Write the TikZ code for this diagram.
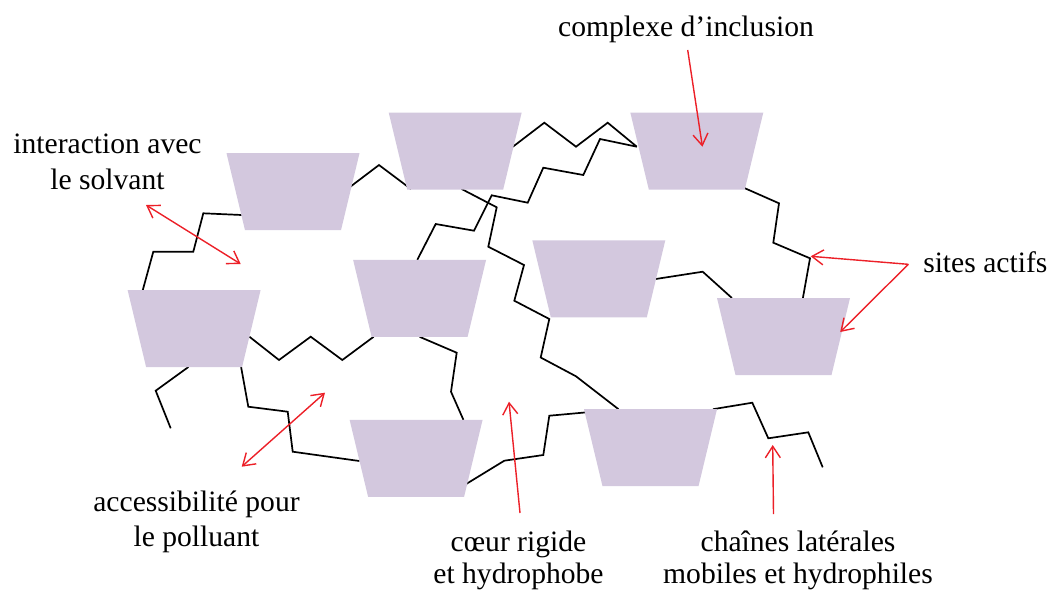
\documentclass[tikz,border=0pt]{standalone}
\usepackage{fontspec}
\setmainfont{Liberation Serif}
\usetikzlibrary{arrows.meta}
\pgfdeclarelayer{bg}
\pgfsetlayers{bg,main}
\definecolor{lav}{RGB}{211,200,222}
\definecolor{arr}{RGB}{236,32,40}
\newcommand\cdunit[3]{%
  \coordinate (#1) at (#2,#3);
  \fill[cdfill] ([shift={(-66.5,-38.5)}]#1) -- ([shift={(66.5,-38.5)}]#1)
     -- ([shift={(48,38.5)}]#1) -- ([shift={(-48,38.5)}]#1) -- cycle;}
\begin{document}
\begin{tikzpicture}[x=1pt,y=-1pt,
  cdfill/.style={fill=lav, draw=none},
  chainline/.style={line width=1.7pt, black},
  redarrow/.style={draw=arr, line width=1.4pt, -{Straight Barb[length=11.5pt,width=15pt]}},
  reddouble/.style={draw=arr, line width=1.4pt, {Straight Barb[length=11.5pt,width=15pt]}-{Straight Barb[length=11.5pt,width=15pt]}},
  lbltop/.style={font=\fontsize{29.6}{35.5}\selectfont, inner sep=0pt, align=center, anchor=base},
  lblbot/.style={font=\fontsize{29.6}{31.5}\selectfont, inner sep=0pt, align=center, anchor=base}
]
\useasboundingbox (0,0) rectangle (1049,590);

% cyclodextrin units
\cdunit{t1}{293}{191.7}
\cdunit{t2}{455.2}{151}
\cdunit{t3}{194.1}{328.5}
\cdunit{t4}{419.6}{298.3}
\cdunit{t5}{696.8}{151}
\cdunit{t6}{598.8}{278.8}
\cdunit{t7}{783.5}{336.5}
\cdunit{t8}{416.1}{458.3}
\cdunit{t9}{650.5}{447.7}

\coordinate (e10) at (170.7,428.3);
\coordinate (e13) at (822.7,467.3);

% chains
\begin{pgfonlayer}{bg}
\draw[chainline] ([shift={(-51.3,23.3)}]t1) -- (203.3,213.3) -- (193.3,251.7) -- (153.3,251.7) -- ([shift={(-51.3,-38.5)}]t3);
\draw[chainline] ([shift={(54.3,-2.7)}]t1) -- (379,165) -- ([shift={(-44.3,38)}]t2);
\draw[chainline] ([shift={(57.7,-4.3)}]t2) -- (544.3,122.7) -- (576,146.7) -- (607.7,122.7) -- ([shift={(-60,-4.3)}]t5);
\draw[chainline] ([shift={(-60,-4.3)}]t5) -- (600,139) -- (583.3,175) -- (543.3,167.7) -- (527.7,202.7) -- (491.7,195.3) -- (474,230.7) -- (435.7,224) -- ([shift={(-2.3,-38.5)}]t4);
\draw[chainline] ([shift={(6.4,38)}]t2) -- (496.7,207.3) -- (488.3,246.7) -- (524,265) -- (514.3,300.7) -- (549.3,319) -- (540.7,357.5) -- (576,376.3) -- ([shift={(-32,-38.5)}]t9);
\draw[chainline] ([shift={(56.9,0.2)}]t6) -- (702.7,271.7) -- ([shift={(-51.6,-38.5)}]t7);
\draw[chainline] ([shift={(46,36.3)}]t5) -- (779,203.3) -- (773.3,242.7) -- (810,258.3) -- ([shift={(19.4,-38.5)}]t7);
\draw[chainline] ([shift={(55.3,8.2)}]t3) -- (279,360) -- (310.7,336.7) -- (342.3,360) -- ([shift={(-46,38.5)}]t4);
\draw[chainline] ([shift={(0,38.5)}]t4) -- (456.7,352.7) -- (451,391.7) -- ([shift={(47.3,-38.5)}]t8);
\draw[chainline] ([shift={(-5.7,38.5)}]t3) -- (155.7,390.7) -- (e10);
\draw[chainline] ([shift={(47,38.5)}]t3) -- (248.3,406.7) -- (287.7,411.7) -- (292.7,451.7) -- ([shift={(-56.7,2.7)}]t8);
\draw[chainline] ([shift={(47.3,27.4)}]t8) -- (504.3,460.7) -- (543.3,455) -- (549.3,415.7) -- ([shift={(-63.6,-35.4)}]t9);
\draw[chainline] ([shift={(62.4,-38.5)}]t9) -- (752.3,402.7) -- (768.3,438.3) -- (808.3,432.3) -- (e13);
\end{pgfonlayer}

% labels
\node[lbltop] (complexe) at (686,36) {complexe d’inclusion};
\node[lbltop] (solvant) at (107.5,189) {interaction avec\\le solvant};
\node[lbltop] (sites) at (985.3,272.7) {sites actifs};
\node[lbltop] (acces) at (196.5,546.7) {accessibilité pour\\le polluant};
\node[lblbot] (coeur) at (518.5,583.3) {cœur rigide\\et hydrophobe};
\node[lblbot] (chaines) at (798,583.3) {chaînes latérales\\mobiles et hydrophiles};

% arrow end points
\coordinate (aci) at (687.7,50);
\coordinate (as1) at (146,205);
\coordinate (as2) at (240.7,264);
\coordinate (ast) at (908.3,264.3);
\coordinate (asa) at (810.7,256.3);
\coordinate (aa1) at (325,392.7);
\coordinate (aa2) at (241.7,466.7);
\coordinate (acs) at (520,513);
\coordinate (acp) at (509,401.7);
\coordinate (ahs) at (773.5,514);
\coordinate (ahp) at (772.7,445);

% red arrows
\draw[redarrow] (aci) -- ([shift={(5.6,-4.3)}]t5);
\draw[reddouble] (as1) -- (as2);
\draw[redarrow] (ast) -- (asa);
\draw[redarrow] (ast) -- ([shift={(56.7,-4.5)}]t7);
\draw[reddouble] (aa1) -- (aa2);
\draw[redarrow] (acs) -- (acp);
\draw[redarrow] (ahs) -- (ahp);
\end{tikzpicture}
\end{document}
